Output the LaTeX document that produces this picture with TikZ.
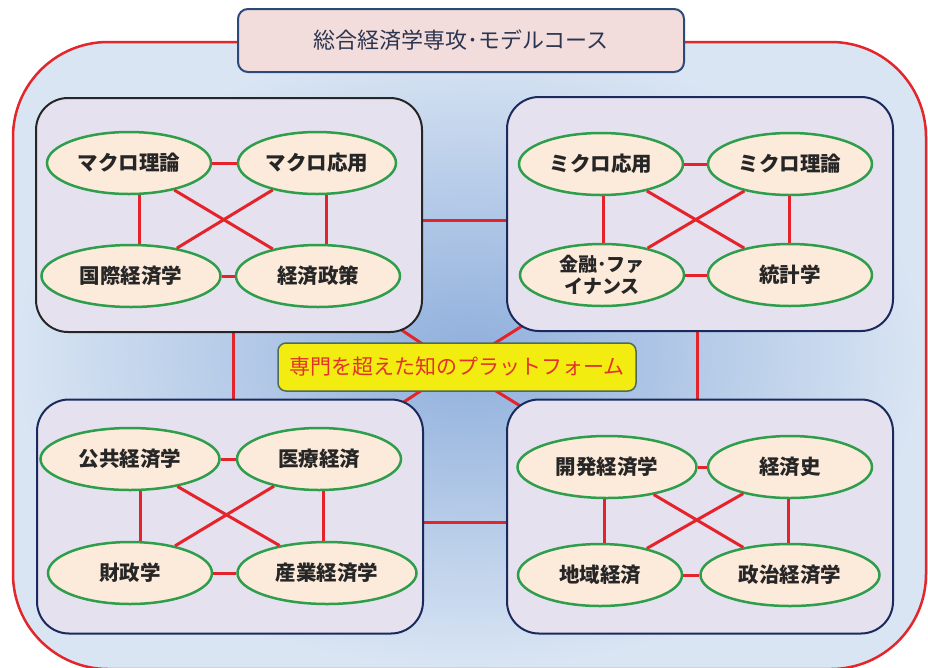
\documentclass[tikz,border=0pt]{standalone}
\usepackage{fontspec}
\setmainfont{Noto Sans CJK JP}
\usetikzlibrary{shapes.geometric}
\definecolor{outerred}{HTML}{E3262B}
\definecolor{bgin}{HTML}{8FAFDC}
\definecolor{bgout}{HTML}{D9E5F3}
\definecolor{titlepink}{HTML}{F2DDDC}
\definecolor{titleblue}{HTML}{2B4A78}
\definecolor{panelfill}{HTML}{E6E1EE}
\definecolor{navy}{HTML}{1B2A5C}
\definecolor{peach}{HTML}{FCEADA}
\definecolor{ovalgreen}{HTML}{2E9E4C}
\definecolor{linkred}{HTML}{E4232B}
\definecolor{hubyellow}{HTML}{F3EC10}
\definecolor{hubborder}{HTML}{4E6A5C}
\definecolor{hubtext}{HTML}{E2332B}
\definecolor{textdark}{HTML}{262626}
\definecolor{textgray}{HTML}{2C3550}
\pgfdeclarelayer{back}
\pgfdeclarelayer{lines}
\pgfsetlayers{back,lines,main}
\begin{document}
\begin{tikzpicture}[x=1pt,y=-1pt,
  titlebox/.style={draw=titleblue,fill=titlepink,line width=2pt,rounded corners=10pt,
    minimum width=446pt,minimum height=63pt,inner sep=0pt,text=textgray,
    font=\fontsize{22}{26}\selectfont},
  panel/.style={rectangle,draw=navy,fill=panelfill,line width=2pt,rounded corners=32pt,
    minimum width=386pt,minimum height=234pt,inner sep=0pt},
  hub/.style={rectangle,draw=hubborder,fill=hubyellow,line width=1.5pt,rounded corners=8pt,
    minimum width=358pt,minimum height=48pt,inner sep=0pt,text=hubtext,
    font=\fontsize{21}{24}\selectfont},
  topic/.style={ellipse,draw=ovalgreen,fill=peach,line width=2.5pt,
    minimum width=164pt,minimum height=62pt,inner sep=0pt,text=textdark,align=center,
    font=\fontsize{20.5}{23}\selectfont\bfseries},
  wide/.style={minimum width=179pt},
  link/.style={draw=linkred,line width=3pt}]
\useasboundingbox (0,0) rectangle (928,667);
\begin{pgfonlayer}{back}
  \path[draw=outerred,line width=2.5pt,rounded corners=95pt,inner color=bgin,outer color=bgout]
    (13,42) rectangle (926,669);
\end{pgfonlayer}
% title
\node[titlebox] (title) at (461,40.5) {総合経済学専攻･モデルコース};
% panels
\node[panel,draw=black!85] (TL) at (229,215) {};
\node[panel] (TR) at (700,214) {};
\node[panel] (BL) at (230,516.5) {};
\node[panel] (BR) at (700,516.5) {};
% hub
\node[hub] (hub) at (457,367) {専門を超えた知のプラットフォーム};
\begin{pgfonlayer}{lines}
  \draw[link] (hub.center) -- (TL.center);
  \draw[link] (hub.center) -- (TR.center);
  \draw[link] (hub.center) -- (BL.center);
  \draw[link] (hub.center) -- (BR.center);
  \draw[link] ([yshift=-5pt]TL.center) -- ([yshift=-5pt]TL.center -| TR.center);
  \draw[link] ([yshift=-6pt]BL.center) -- ([yshift=-6pt]BL.center -| BR.center);
  \draw[link] ([xshift=4pt]TL.center) -- ([xshift=4pt]TL.center |- BL.center);
  \draw[link] ([xshift=-3pt]TR.center) -- ([xshift=-3pt]TR.center |- BR.center);
\end{pgfonlayer}
% top-left panel
\node[topic] (m1) at (129,163) {マクロ理論};
\node[topic,minimum width=158pt] (m2) at (317,163) {マクロ応用};
\node[topic,wide] (m3) at (131,276) {国際経済学};
\node[topic] (m4) at (318,276) {経済政策};
% top-right panel
\node[topic] (r1) at (601,164) {ミクロ応用};
\node[topic] (r2) at (790,164) {ミクロ理論};
\node[topic,font=\fontsize{19}{22.5}\selectfont\bfseries] (r3) at (602,275) {金融･ファ\\イナンス};
\node[topic] (r4) at (790,275) {統計学};
% bottom-left panel
\node[topic,wide] (b1) at (130,459) {公共経済学};
\node[topic] (b2) at (319,459) {医療経済};
\node[topic] (b3) at (130,573) {財政学};
\node[topic,wide] (b4) at (327,573) {産業経済学};
% bottom-right panel
\node[topic,wide] (d1) at (607,467) {開発経済学};
\node[topic] (d2) at (790,467) {経済史};
\node[topic] (d3) at (600,575) {地域経済};
\node[topic,wide] (d4) at (790,575) {政治経済学};
% links inside panels
\foreach \a/\b/\c/\d/\s/\t in {m1/m2/m3/m4/10/9, r1/r2/r3/r4/2/-1, b1/b2/b3/b4/10/4, d1/d2/d3/d4/-3/-2}{
  \draw[link] (\a) -- (\b);
  \draw[link] (\c) -- (\d);
  \draw[link] (\a) -- (\d);
  \draw[link] (\b) -- (\c);
  \draw[link] ([xshift=\s pt]\a.south) -- ([xshift=\s pt]\a.south |- \c.north);
  \draw[link] ([xshift=\t pt]\b.south) -- ([xshift=\t pt]\b.south |- \d.north);
}
\end{tikzpicture}
\end{document}
